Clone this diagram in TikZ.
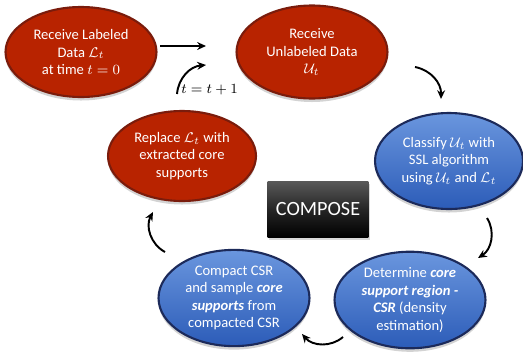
\documentclass[tikz,border=0pt]{standalone}
\usepackage{fontspec}
\setmainfont{Carlito}
\usetikzlibrary{positioning, arrows.meta, shapes.geometric, shadows}
\definecolor{BrickRed}{HTML}{B82300}
\definecolor{BrickEdge}{HTML}{7A1C0C}
\definecolor{SkyTop}{HTML}{6A96DE}
\definecolor{SkyBottom}{HTML}{2C5CB8}
\definecolor{NavyEdge}{HTML}{1C2A5A}

\begin{document}
\begin{tikzpicture}[
  x=0.02cm, y=-0.02cm,
  redstep/.style={ellipse, draw=BrickEdge, line width=1.2pt, fill=BrickRed,
    minimum width=3.02cm, minimum height=1.80cm, inner sep=1pt,
    align=center, text=white, font=\fontsize{8.3}{10}\selectfont,
    drop shadow={shadow xshift=0pt, shadow yshift=-2pt, opacity=0.35}},
  bluestep/.style={ellipse, draw=NavyEdge, line width=1.2pt,
    top color=SkyTop, bottom color=SkyBottom,
    minimum width=3.02cm, minimum height=1.84cm, inner sep=1pt,
    align=center, text=white, font=\fontsize{8.3}{10}\selectfont,
    drop shadow={shadow xshift=0pt, shadow yshift=-2pt, opacity=0.35}},
  namebox/.style={rectangle, top color=black!65, bottom color=black,
    middle color=black!85, minimum width=2.02cm, minimum height=1.12cm,
    text=white, font=\fontsize{11.5}{13}\selectfont,
    drop shadow={shadow xshift=1pt, shadow yshift=-1.5pt, opacity=0.3}},
  arr/.style={-{Stealth[length=5pt, width=4.5pt]}, line width=1.1pt, black}
]
  \useasboundingbox (0,0) rectangle (523,352);

  \node[redstep] (labeled) at (81,52)
    {Receive Labeled\\Data $\mathcal{L}_t$\\at time $t=0$};
  \node[redstep, minimum height=1.86cm] (unlabeled) at (312,52)
    {Receive\\Unlabeled Data\\$\mathcal{U}_t$};
  \node[bluestep, minimum width=2.96cm, minimum height=1.92cm] (classify) at (449,161)
    {Classify $\mathcal{U}_t$ with\\SSL algorithm\\using $\mathcal{U}_t$ and $\mathcal{L}_t$};
  \node[bluestep] (csr) at (410,300)
    {Determine \textbf{\textit{core}}\\\textbf{\textit{support region -}}\\\textbf{\textit{CSR}} (density\\estimation)};
  \node[bluestep] (compact) at (234,298)
    {Compact CSR\\and sample \textbf{\textit{core}}\\\textbf{\textit{supports}} from\\compacted CSR};
  \node[redstep, minimum width=2.96cm] (replace) at (182,156)
    {Replace $\mathcal{L}_t$ with\\extracted core\\supports};
  \node[namebox] (compose) at (318,209) {COMPOSE};

  % free ends of the connectors
  \coordinate (p1) at (160,46);  \coordinate (p2) at (206,46);
  \coordinate (q1) at (415,67);  \coordinate (q2) at (441,99);
  \coordinate (r1) at (487,218); \coordinate (r2) at (478,258);
  \coordinate (s1) at (343,337); \coordinate (s2) at (302,334);
  \coordinate (u1) at (165,252); \coordinate (u2) at (153,212);
  \coordinate (v1) at (177,94);  \coordinate (v2) at (206,65);

  \draw[arr] (p1) -- (p2);
  \draw[arr] (q1) to[bend left=40] (q2);
  \draw[arr] (r1) to[bend left=45] (r2);
  \draw[arr] (s1) to[bend left=45] (s2);
  \draw[arr] (u1) to[bend left=45] (u2);
  \draw[arr] (v1) to[bend left=40] (v2);

  \node[font=\fontsize{7.8}{10}\selectfont, inner sep=0pt, anchor=west] (tick) at (181,90) {$t=t+1$};
\end{tikzpicture}
\end{document}
